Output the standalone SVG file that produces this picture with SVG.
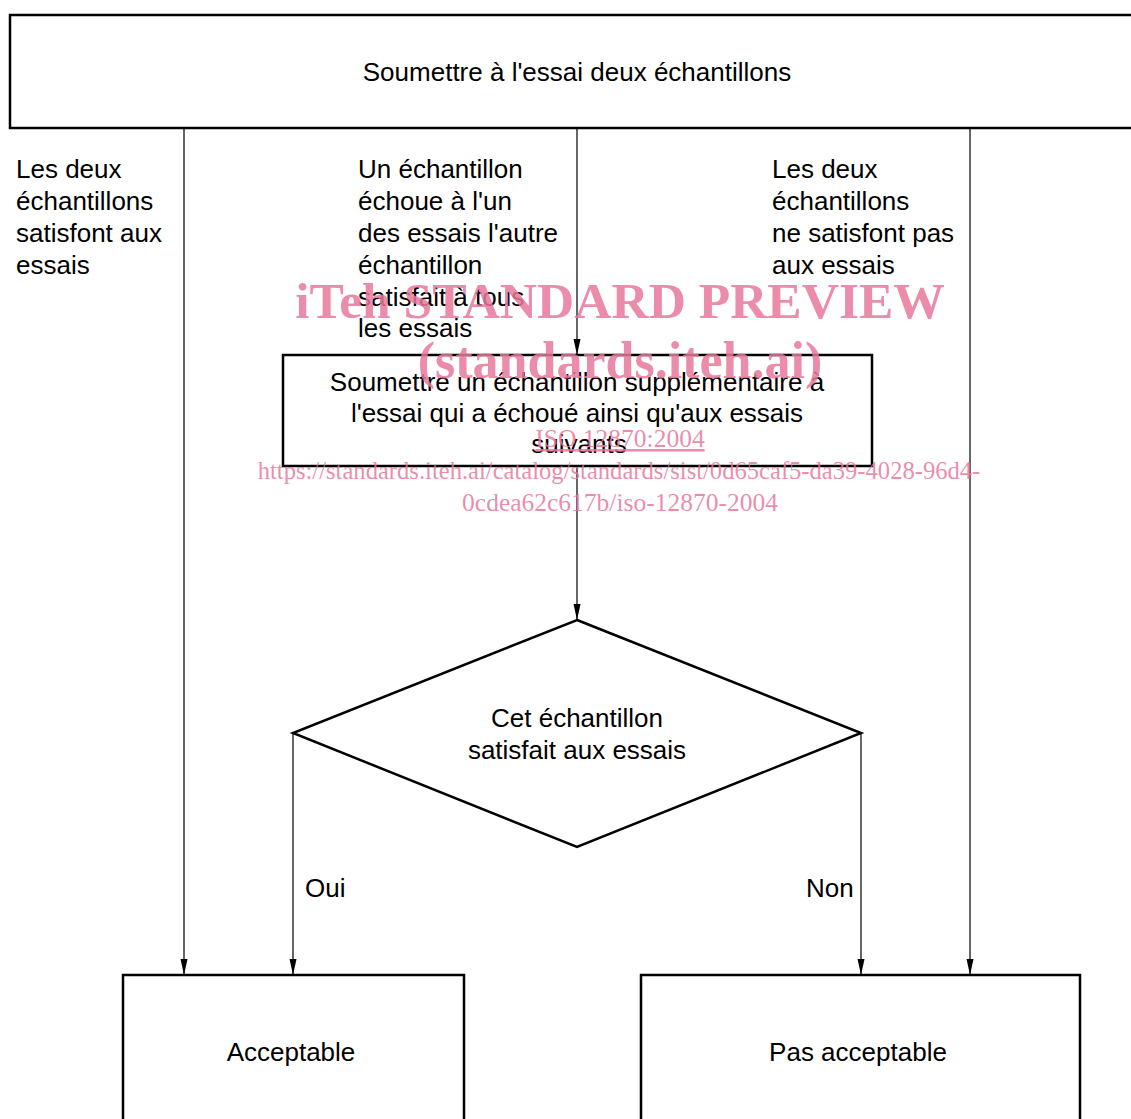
<svg xmlns="http://www.w3.org/2000/svg" width="1131" height="1119" viewBox="0 0 1131 1119">
<defs>
<marker id="ah" viewBox="0 0 16 16" refX="16" refY="8" markerWidth="16" markerHeight="16" markerUnits="userSpaceOnUse" orient="auto"><path d="M0,4.5 L16,8 L0,11.5 z" fill="#000"/></marker>
<style>
.box{fill:#fff;stroke:#000;stroke-width:2.5}
.t{font-family:"Liberation Sans",Arial,sans-serif;font-size:26px;fill:#000}
.c{text-anchor:middle}
.ln{stroke:#000;stroke-width:1.2;fill:none;marker-end:url(#ah)}
.wm{font-family:"Liberation Serif","Times New Roman",serif;fill:#e8799b;fill-opacity:0.85;text-anchor:middle}
</style>
</defs>
<rect width="1131" height="1119" fill="#fff"/>
<g id="connectors">
<line class="ln" x1="184" y1="128" x2="184" y2="975"/>
<line class="ln" x1="577" y1="128" x2="577" y2="355"/>
<line class="ln" x1="970" y1="128" x2="970" y2="975"/>
<line class="ln" x1="577" y1="466" x2="577" y2="620"/>
<line class="ln" x1="293" y1="733" x2="293" y2="975"/>
<line class="ln" x1="861" y1="733" x2="861" y2="975"/>
</g>
<g id="start">
<rect class="box" x="10" y="15" width="1140" height="113"/>
<text class="t c" x="577" y="81">Soumettre à l'essai deux échantillons</text>
</g>
<g id="label-left">
<text class="t" x="16" y="178">Les deux</text>
<text class="t" x="16" y="210">échantillons</text>
<text class="t" x="16" y="242">satisfont aux</text>
<text class="t" x="16" y="274">essais</text>
</g>
<g id="label-mid">
<text class="t" x="358" y="178">Un échantillon</text>
<text class="t" x="358" y="210">échoue à l'un</text>
<text class="t" x="358" y="242">des essais l'autre</text>
<text class="t" x="358" y="274">échantillon</text>
<text class="t" x="358" y="306">satisfait à tous</text>
<text class="t" x="358" y="337">les essais</text>
</g>
<g id="label-right">
<text class="t" x="772" y="178">Les deux</text>
<text class="t" x="772" y="210">échantillons</text>
<text class="t" x="772" y="242">ne satisfont pas</text>
<text class="t" x="772" y="274">aux essais</text>
</g>
<g id="retest">
<rect class="box" x="283" y="355" width="589" height="111"/>
<text class="t c" x="577" y="391">Soumettre un échantillon supplémentaire à</text>
<text class="t c" x="577" y="422">l'essai qui a échoué ainsi qu'aux essais</text>
<text class="t c" x="579" y="453">suivants</text>
</g>
<g id="decision">
<polygon class="box" points="577,620 861,733 577,847 293,733"/>
<text class="t c" x="577" y="727">Cet échantillon</text>
<text class="t c" x="577" y="759">satisfait aux essais</text>
</g>
<g id="edge-labels">
<text class="t" x="305" y="897">Oui</text>
<text class="t" x="806" y="897">Non</text>
</g>
<g id="acceptable">
<rect class="box" x="123" y="975" width="341" height="160"/>
<text class="t c" x="291" y="1061">Acceptable</text>
</g>
<g id="rejected">
<rect class="box" x="641" y="975" width="439" height="160"/>
<text class="t c" x="858" y="1061">Pas acceptable</text>
</g>
<g id="watermark">
<text class="wm" x="620" y="318" font-size="51.5" font-weight="bold">iTeh STANDARD PREVIEW</text>
<text class="wm" x="620" y="378" font-size="52" font-weight="bold">(standards.iteh.ai)</text>
<text class="wm" x="620" y="447" font-size="25.5" text-decoration="underline">ISO 12870:2004</text>
<text class="wm" x="619" y="479" font-size="24.6">https://standards.iteh.ai/catalog/standards/sist/0d65caf5-da39-4028-96d4-</text>
<text class="wm" x="620" y="511" font-size="25.5">0cdea62c617b/iso-12870-2004</text>
</g>
</svg>
